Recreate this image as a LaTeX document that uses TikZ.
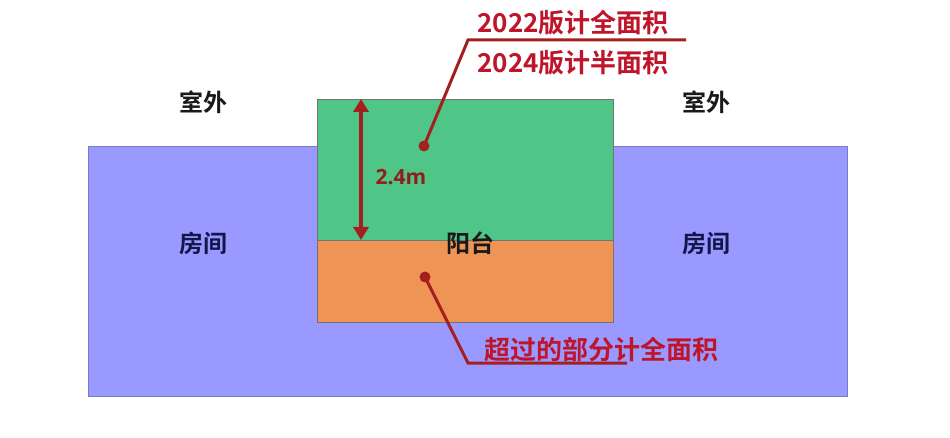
\documentclass[tikz,border=0pt]{standalone}
\usepackage{fontspec}
\newfontfamily\cjk{Noto Sans CJK SC Bold}
\definecolor{roomblue}{HTML}{9999FF}
\definecolor{balgreen}{HTML}{4FC687}
\definecolor{balorange}{HTML}{EE9455}
\definecolor{darkred}{HTML}{A3201F}
\definecolor{labred}{HTML}{BE152A}
\definecolor{navytext}{HTML}{15154A}
\usetikzlibrary{arrows.meta}
\tikzset{
  area/.style={draw=black!55, line width=0.6pt},
  lab/.style={font=\cjk\fontsize{24}{24}\selectfont, text=black!90, inner sep=0pt},
  callout/.style={font=\cjk\fontsize{26}{26}\selectfont, text=labred, inner sep=0pt},
  leader/.style={draw=darkred, line width=3pt},
  dotmark/.style={circle, fill=darkred, inner sep=0pt, minimum size=11pt},
}
\begin{document}
\begin{tikzpicture}[x=1pt,y=-1pt]
\useasboundingbox (0,0) rectangle (950,438);
\fill[white] (0,0) rectangle (950,438);
% room
\draw[area, fill=roomblue, draw=roomblue!80!black] (88,146) rectangle (847,396);
% balcony
\draw[area, fill=balgreen] (317,99) rectangle (613,240);
\draw[area, fill=balorange] (317,240) rectangle (613,322);
% labels
\node[lab] (out1) at (203,102) {室外};
\node[lab] (out2) at (706,102) {室外};
\node[lab, text=navytext] (room1) at (203,243) {房间};
\node[lab, text=navytext] (room2) at (706,243) {房间};
\node[lab] (bal) at (470,243) {阳台};
% height arrow
\coordinate (atop) at (361,99);
\coordinate (abot) at (361,240);
\draw[darkred, line width=3.2pt, {Triangle[length=13pt,width=15pt]}-{Triangle[length=13pt,width=15pt]}] (atop) -- (abot);
\node[font=\fontspec{Open Sans Bold}\fontsize{21}{21}\selectfont, text=darkred!90!black, inner sep=0pt] (h) at (401,177) {2.4m};
% upper callout
\node[dotmark] (d1) at (424,146) {};
\coordinate (k1) at (468,40);
\coordinate (e1) at (686,40);
\draw[leader] (d1.center) -- (k1) -- (e1);
\node[callout] (t1) at (573,23) {2022版计全面积};
\node[callout] (t2) at (573,63) {2024版计半面积};
% lower callout
\node[dotmark] (d2) at (425,277) {};
\coordinate (k2) at (468,363);
\coordinate (e2) at (627,363);
\draw[leader] (d2.center) -- (k2) -- (e2);
\node[callout] (t3) at (601,350) {超过的部分计全面积};
\end{tikzpicture}
\end{document}
